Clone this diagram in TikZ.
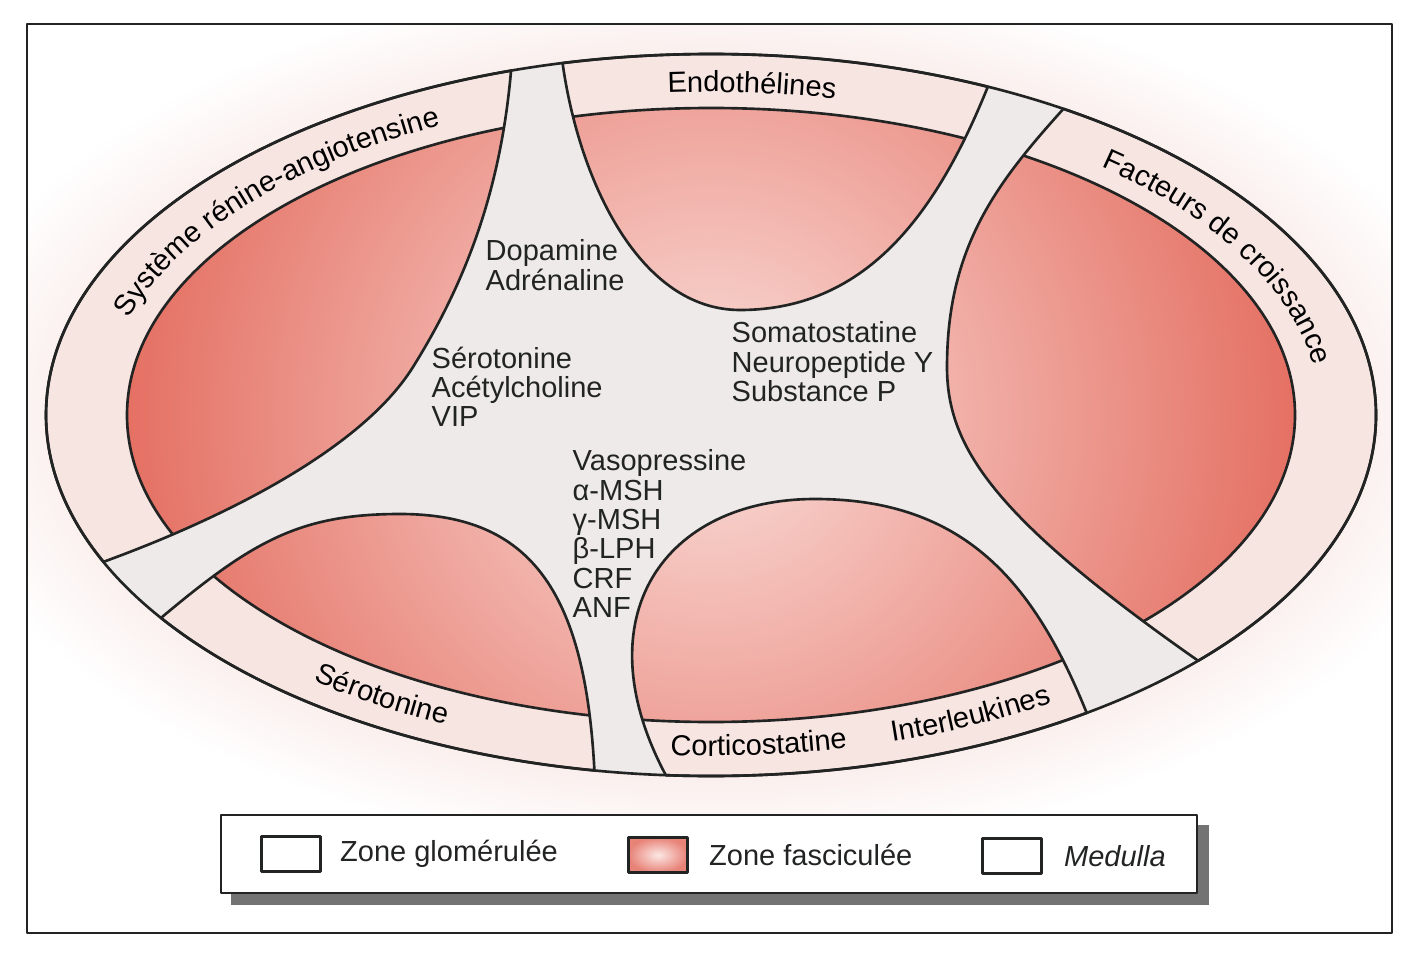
\documentclass[tikz,border=0pt]{standalone}
\usepackage{fontspec}
\setmainfont{Liberation Sans}
\usetikzlibrary{positioning,decorations.text}
\definecolor{medulla}{RGB}{237,234,233}
\definecolor{glom}{RGB}{247,229,226}
\definecolor{fascin}{RGB}{250,222,218}
\definecolor{fascout}{RGB}{226,100,86}
\definecolor{ink}{RGB}{34,36,35}
\pgfdeclareradialshading{halo}{\pgfpointorigin}{color(0bp)=(glom!70!white); color(20bp)=(glom!70!white); color(25bp)=(white); color(50bp)=(white)}
\newcommand\bandfont{\fontsize{8.25}{9}\selectfont}
% one sector of the cortex: band of glomerulee, then the lobe of fasciculee
\newcommand\zone[1]{%
  \begin{scope}
    \clip #1;
    \fill[glom] (O) ellipse (665 and 361);
    \begin{scope}
      \clip (O) ellipse (584 and 307);
      \shade[inner color=fascin, outer color=fascout] (O) circle (650);
    \end{scope}
    \draw[rim] (O) ellipse (584 and 307);
  \end{scope}
  \draw[rim] #1;}
\begin{document}
\begin{tikzpicture}[x=.01cm, y=.01cm, line join=round, line cap=round,
  font=\fontsize{8.25}{8.35}\selectfont,
  rim/.style={draw=ink, line width=.75pt},
  txt/.style={align=left, inner sep=0pt, text=ink},
  swatch/.style={draw=ink, line width=1.1pt, fill=white, minimum width=.59cm, minimum height=.35cm, inner sep=0pt}]
	\useasboundingbox (0,0) rectangle (1416,960);
	\fill[white] (0,0) rectangle (1416,960);
	\coordinate (O) at (711,545);
	\begin{scope}
	\clip (27,27) rectangle (1392,936);
	\shade[shading=halo] (O) ellipse (780 and 440);
	\end{scope}
	\draw[ink, line width=.6pt] (27,27) rectangle (1392,936);
	% ends of the sectors on the outer rim
	\path (O) ++(204:665 and 361) coordinate (l1)
	(O) ++(102.9:665 and 361) coordinate (t1)
	(O) ++(58:665 and 361) coordinate (r1)
	(O) ++(-55.6:665 and 361) coordinate (c1)
	(O) ++(-100.1:665 and 361) coordinate (b1);
	\fill[medulla] (O) ellipse (665 and 361);
	% left
	\zone{(l1) arc[start angle=204, end angle=107.5, x radius=665, y radius=361]
	.. controls +(-95:110) and +(58:110) .. (413,593)
	.. controls +(238:100) and +(20:120) .. (l1) -- cycle}
	% top
	\zone{(t1) arc[start angle=102.9, end angle=65.4, x radius=665, y radius=361]
	.. controls +(248:130) and +(0:130) .. (740,650)
	.. controls +(180:100) and +(-82:120) .. (t1) -- cycle}
	% right
	\zone{(r1) arc[start angle=58, end angle=-42.9, x radius=665, y radius=361]
	.. controls +(145:250) and +(-90:80) .. (947,593)
	.. controls +(90:120) and +(228:100) .. (r1) -- cycle}
	% bottom
	\zone{(c1) arc[start angle=-55.6, end angle=-93.9, x radius=665, y radius=361]
	.. controls +(118:180) and +(180:150) .. (815,461)
	.. controls +(0:150) and +(112:140) .. (c1) -- cycle}
	% bottom left
	\zone{(b1) arc[start angle=-100.1, end angle=-145.8, x radius=665, y radius=361]
	.. controls +(40:120) and +(180:100) .. (400,446)
	.. controls +(0:130) and +(93:180) .. (b1) -- cycle}
	\draw[rim] (O) ellipse (665 and 361);
	% labels in the band
	\path (O) ++(175:610 and 323) coordinate (sys)
	(O) ++(106:610 and 323) coordinate (endo)
	(O) ++(55:610 and 323) coordinate (fact)
	(O) ++(217:634 and 341) coordinate (sero)
	(O) ++(257:634 and 341) coordinate (cort)
	(O) ++(280:634 and 341) coordinate (inter);
	\path[decorate, decoration={text along path, text align=center, text={|\bandfont|Système rénine-angiotensine}}]
	(sys) arc[start angle=175, end angle=109, x radius=610, y radius=323];
	\path[decorate, decoration={text along path, text align=center, text={|\bandfont|Endothélines}}]
	(endo) arc[start angle=106, end angle=66, x radius=610, y radius=323];
	\path[decorate, decoration={text along path, text align=center, text={|\bandfont|Facteurs de croissance}}]
	(fact) arc[start angle=55, end angle=1, x radius=610, y radius=323];
	\path[decorate, decoration={text along path, text align=center, text={|\bandfont|Sérotonine}}]
	(sero) arc[start angle=217, end angle=257, x radius=634, y radius=341];
	\path[decorate, decoration={text along path, text align=center, text={|\bandfont|Corticostatine}}]
	(cort) arc[start angle=257, end angle=292, x radius=634, y radius=341];
	\path[decorate, decoration={text along path, text align=center, text={|\bandfont|Interleukines}}]
	(inter) arc[start angle=280, end angle=310, x radius=634, y radius=341];
	% medulla
	\node[txt, anchor=north west] (dopa) at (485,721) {Dopamine\\Adrénaline};
	\node[txt, anchor=north west] (sero5) at (431,614) {Sérotonine\\Acétylcholine\\VIP};
	\node[txt, anchor=north west] (soma) at (731,639) {Somatostatine\\Neuropeptide Y\\Substance P};
	\node[txt, anchor=north west] (vaso) at (572,511) {Vasopressine\\α-MSH\\γ-MSH\\β-LPH\\CRF\\ANF};
	% legend
	\fill[black!55] (231,55) rectangle (1209,135);
	\draw[ink, fill=white, line width=.8pt] (221,67) rectangle (1197,145);
	\node[swatch] (sglom) at (291,106) {};
	\node[txt, right=.17cm of sglom] (lglom) {Zone glomérulée};
	\node[swatch, inner color=fascin!70!white, outer color=fascout!80!white] (sfasc) at (658,105) {};
	\node[txt, right=.19cm of sfasc] (lfasc) {Zone fasciculée};
	\node[swatch] (smed) at (1012,104) {};
	\node[txt, right=.2cm of smed] (lmed) {\itshape Medulla};
\end{tikzpicture}
\end{document}
